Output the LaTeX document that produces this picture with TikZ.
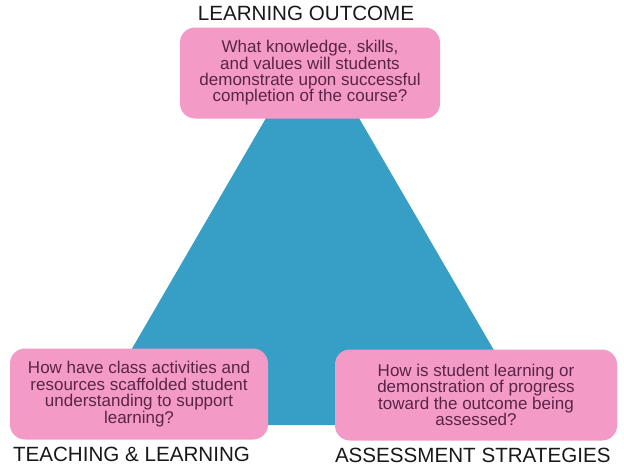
\documentclass[tikz,border=0pt]{standalone}
\usepackage{fontspec}
\setmainfont{Liberation Sans}
\usepackage{xcolor}
\definecolor{qpink}{HTML}{F39BC6}
\definecolor{qblue}{HTML}{379EC5}
\definecolor{qtext}{HTML}{5A2446}
\tikzset{
    question-box/.style = {fill=qpink, text=qtext, rectangle, rounded corners=15pt, align=center, inner sep=0pt, minimum height=91pt, font=\fontsize{17}{16.4}\selectfont},
    corner-title/.style = {text=black!90, font=\fontsize{20.6}{22}\selectfont, inner sep=0pt},
}
\begin{document}
\begin{tikzpicture}[x=1pt, y=-1pt]
\useasboundingbox (0,0) rectangle (624,466);
\fill[qblue] (312.5,38) -- (87.6,425) -- (537.4,425) -- cycle;
\node [question-box, minimum width=260pt] (outcome) at (310,73) {What knowledge, skills,\\and values will students\\demonstrate upon successful\\completion of the course?};
\node [question-box, minimum width=258pt] (teaching) at (139,394) {How have class activities and\\resources scaffolded student\\understanding to support\\learning?};
\node [question-box, minimum width=282pt] (assessment) at (476,395) {How is student learning or\\demonstration of progress\\toward the outcome being\\assessed?};
\node[corner-title, anchor=base] at ([xshift=-4pt, yshift=7pt]outcome.north) {LEARNING OUTCOME};
\node[corner-title, anchor=base west] at ([xshift=3pt, yshift=-22pt]teaching.south west) {TEACHING \& LEARNING};
\node[corner-title, anchor=base west] at ([yshift=-22pt]assessment.south west) {ASSESSMENT STRATEGIES};
\end{tikzpicture}
\end{document}
